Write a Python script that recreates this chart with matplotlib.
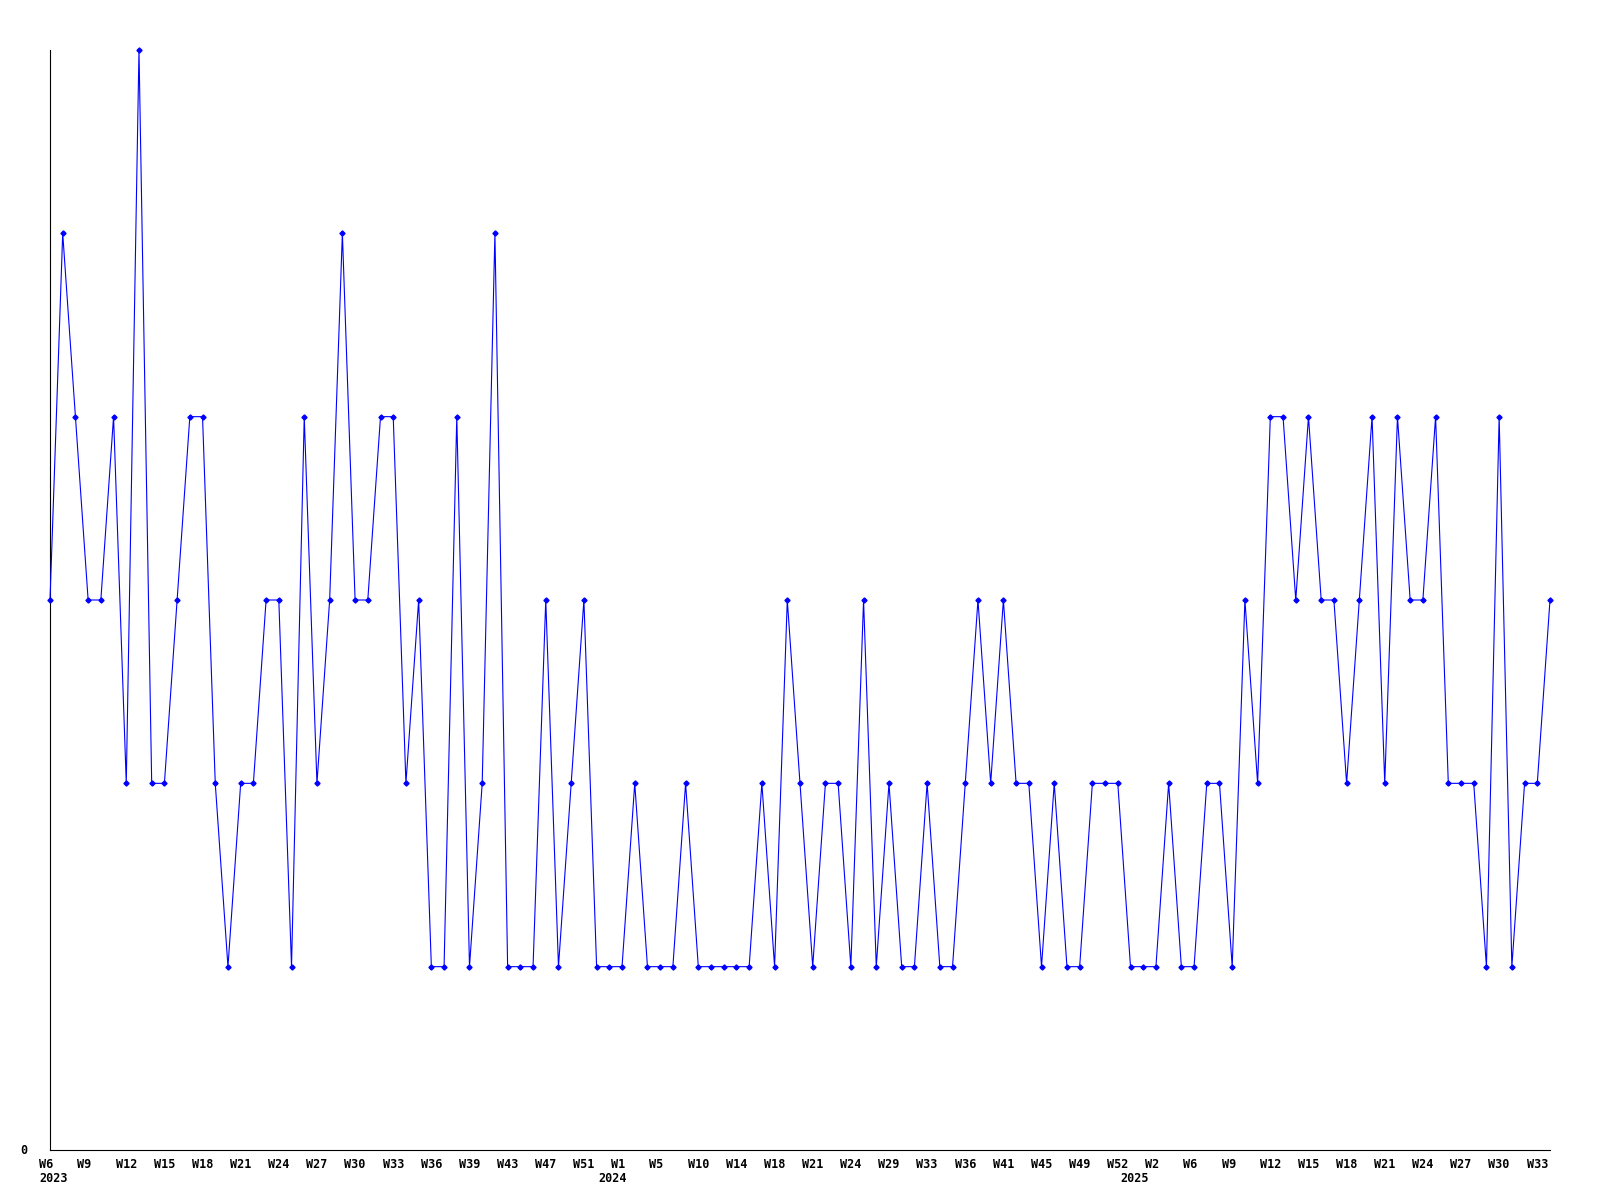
import matplotlib
matplotlib.use('Agg')
import matplotlib.pyplot as plt
from matplotlib.transforms import blended_transform_factory, offset_copy

# ---- data ----
values = [3, 5, 4, 3, 3, 4, 2, 6, 2, 2,
          3, 4, 4, 2, 1, 2, 2, 3, 3, 1,
          4, 2, 3, 5, 3, 3, 4, 4, 2, 3,
          1, 1, 4, 1, 2, 5, 1, 1, 1, 3,
          1, 2, 3, 1, 1, 1, 2, 1, 1, 1,
          2, 1, 1, 1, 1, 1, 2, 1, 3, 2,
          1, 2, 2, 1, 3, 1, 2, 1, 1, 2,
          1, 1, 2, 3, 2, 3, 2, 2, 1, 2,
          1, 1, 2, 2, 2, 1, 1, 1, 2, 1,
          1, 2, 2, 1, 3, 2, 4, 4, 3, 4,
          3, 3, 2, 3, 4, 2, 4, 3, 3, 4,
          2, 2, 2, 1, 4, 1, 2, 2, 3]

tick_labels = ['W6', 'W9', 'W12', 'W15', 'W18', 'W21', 'W24', 'W27', 'W30', 'W33',
               'W36', 'W39', 'W43', 'W47', 'W51', 'W1', 'W5', 'W10', 'W14', 'W18',
               'W21', 'W24', 'W29', 'W33', 'W36', 'W41', 'W45', 'W49', 'W52', 'W2',
               'W6', 'W9', 'W12', 'W15', 'W18', 'W21', 'W24', 'W27', 'W30', 'W33']
tick_step = 3

year_labels = ['2023', '2024', '2025']
year_index = [0, 44, 85]

# ---- figure ----
fig = plt.figure(figsize=(16, 12), dpi=100)
ax = fig.add_axes([50 / 1600, 50 / 1200, 1500 / 1600, 1100 / 1200])

x = list(range(len(values)))
ax.plot(x, values, color='#0000ff', lw=0.8, marker='D', ms=2.6,
        mec='#0000ff', mfc='#0000ff', clip_on=False, zorder=3)

ax.set_xlim(0, len(values) - 1)
ax.set_ylim(0, 6)
for s in ['top', 'right']:
    ax.spines[s].set_visible(False)
for s in ['left', 'bottom']:
    ax.spines[s].set_color('black')
    ax.spines[s].set_linewidth(0.8)
ax.set_xticks([])
ax.set_yticks([])

font = dict(family='DejaVu Sans Mono', fontweight='bold', fontsize=8.5, color='black')

blend = blended_transform_factory(ax.transData, ax.transAxes)
wk_trans = offset_copy(blend, fig=fig, y=-8, units='dots')
for k, lab in enumerate(tick_labels):
    ax.text(k * tick_step, 0, lab.ljust(3), transform=wk_trans,
            ha='center', va='top', **font)

yr_trans = offset_copy(blend, fig=fig, x=-10.5, y=-22, units='dots')
for lab, idx in zip(year_labels, year_index):
    ax.text(idx, 0, lab, transform=yr_trans, ha='left', va='top', **font)

fig.text(20 / 1600, 1 - 1151 / 1200, '0', ha='left', va='center', **font)

fig.savefig('out.png', dpi=100, facecolor='white')
